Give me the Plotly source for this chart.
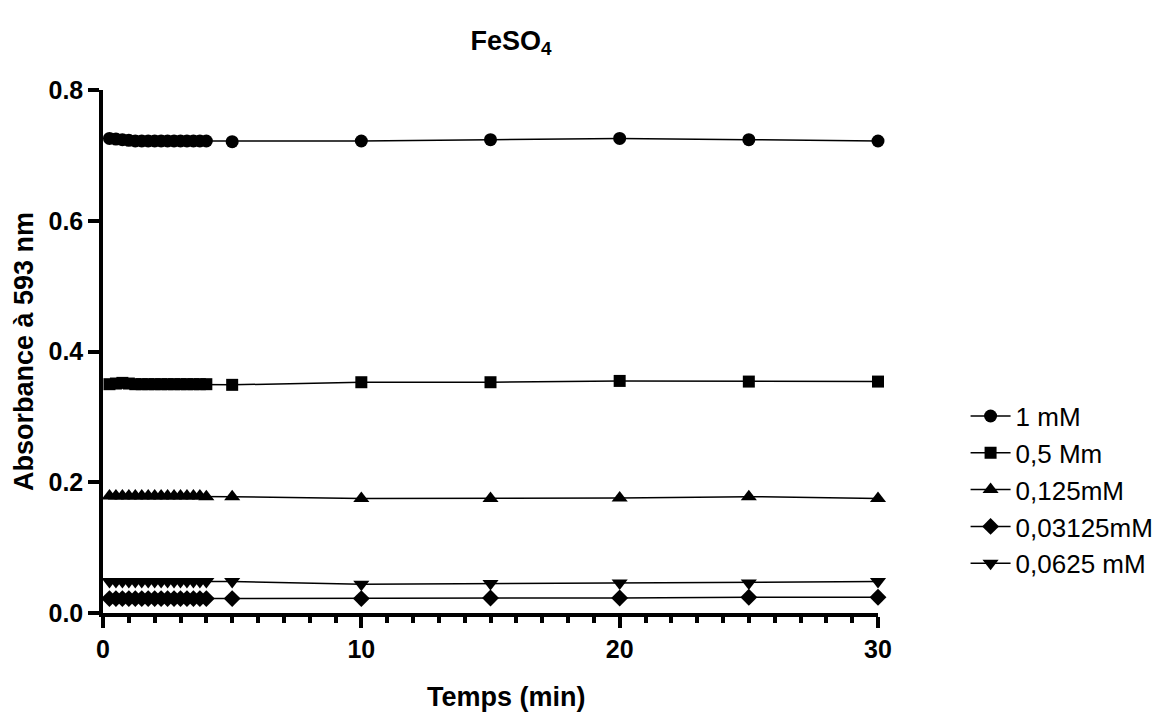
import plotly.graph_objects as go

time_min = [0.25, 0.5, 0.75, 1.0, 1.25, 1.5, 1.75, 2.0, 2.25, 2.5, 2.75, 3.0, 3.25, 3.5, 3.75, 4.0,
            5, 10, 15, 20, 25, 30]

s_1mM = [0.726, 0.725, 0.724, 0.723, 0.722, 0.722, 0.722, 0.722, 0.722, 0.722, 0.722, 0.722, 0.722, 0.722, 0.722, 0.722,
         0.721, 0.722, 0.724, 0.726, 0.724, 0.722]
s_05mM = [0.350, 0.351, 0.352, 0.351, 0.350, 0.350, 0.350, 0.350, 0.350, 0.350, 0.350, 0.350, 0.350, 0.350, 0.350, 0.350,
          0.349, 0.353, 0.353, 0.355, 0.354, 0.354]
s_0125mM = [0.179, 0.179, 0.179, 0.179, 0.179, 0.179, 0.179, 0.179, 0.179, 0.179, 0.179, 0.179, 0.179, 0.179, 0.179, 0.178,
            0.178, 0.175, 0.175, 0.176, 0.178, 0.175]
s_003125mM = [0.022, 0.022, 0.022, 0.022, 0.022, 0.022, 0.022, 0.022, 0.022, 0.022, 0.022, 0.022, 0.022, 0.022, 0.022, 0.022,
              0.022, 0.022, 0.023, 0.023, 0.024, 0.024]
s_00625mM = [0.048, 0.048, 0.048, 0.048, 0.048, 0.048, 0.048, 0.048, 0.048, 0.048, 0.048, 0.048, 0.048, 0.048, 0.048, 0.048,
             0.048, 0.044, 0.045, 0.046, 0.046, 0.048]

series_names = ["1 mM", "0,5 Mm", "0,125mM", "0,03125mM", "0,0625 mM"]
series_values = [s_1mM, s_05mM, s_0125mM, s_003125mM, s_00625mM]
symbols = ["circle", "square", "triangle-up", "diamond", "triangle-down"]
sizes = [13, 12, 14, 13, 14]

fig = go.Figure()
for name, vals, sym, sz in zip(series_names, series_values, symbols, sizes):
    fig.add_trace(go.Scatter(
        x=time_min, y=vals, name=name, mode="lines+markers",
        line=dict(color="black", width=1.5),
        marker=dict(symbol=sym, size=sz, color="black"),
        cliponaxis=False,
    ))

font_family = "Liberation Sans, Arial, sans-serif"

fig.update_layout(
    width=1172, height=718,
    margin=dict(l=103, r=294, t=90, b=105),
    plot_bgcolor="white", paper_bgcolor="white",
    font=dict(family=font_family, color="black", size=20),
    title=dict(text="<b>FeSO<sub>4</sub></b>", x=0.436, xanchor="center", y=0.944, yanchor="middle",
               font=dict(size=27, family=font_family, color="black")),
    showlegend=True,
    legend=dict(x=1.113, xanchor="left", xref="paper", y=0.235, yanchor="middle",
                font=dict(size=26, family=font_family, color="black"),
                tracegroupgap=0, itemwidth=40, bgcolor="rgba(0,0,0,0)",
                traceorder="normal"),
    annotations=[dict(text="<b>Temps (min)</b>", xref="paper", yref="paper", x=0.521, y=-0.1606,
                      xanchor="center", yanchor="middle", showarrow=False,
                      font=dict(size=27, family=font_family, color="black"))],
)

fig.update_xaxes(
    range=[0, 30], tickmode="array", tickvals=[0, 10, 20, 30], ticktext=["<b>0</b>", "<b>10</b>", "<b>20</b>", "<b>30</b>"],
    showline=True, linecolor="black", linewidth=3.5,
    ticks="outside", ticklen=11, tickwidth=3.5, tickcolor="black",
    minor=dict(dtick=1, ticks="outside", ticklen=6, tickwidth=3.5, tickcolor="black", showgrid=False),
    showgrid=False, zeroline=False,
    tickfont=dict(size=25, family=font_family, color="black"),
)
fig.update_yaxes(
    range=[0, 0.8], tickmode="array", tickvals=[0, 0.2, 0.4, 0.6, 0.8],
    ticktext=["<b>0.0</b>", "<b>0.2</b>", "<b>0.4</b>", "<b>0.6</b>", "<b>0.8</b>"],
    showline=True, linecolor="black", linewidth=3.5,
    ticks="outside", ticklen=11, tickwidth=3.5, tickcolor="black",
    showgrid=False, zeroline=False,
    tickfont=dict(size=25, family=font_family, color="black"),
    title=dict(text="<b>Absorbance à 593 nm</b>", font=dict(size=27, family=font_family, color="black"), standoff=8),
)

fig.write_html("out.html")
